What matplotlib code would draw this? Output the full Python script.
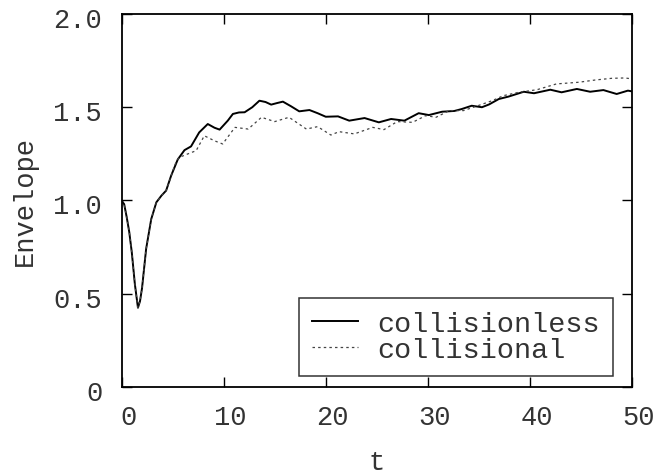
import matplotlib
matplotlib.use('Agg')
import matplotlib.pyplot as plt
import matplotlib.transforms as mtransforms

# collisionless run
t_less = [0, 0.25, 0.5, 0.75, 1.0, 1.3, 1.6, 1.8, 2.0, 2.4, 2.9, 3.4, 3.9,
          4.36, 4.85, 5.5, 6.16, 6.8, 7.6, 8.44, 9.1, 9.6, 10.4, 10.9, 11.5,
          12.05, 12.8, 13.5, 14.1, 14.65, 15.2, 15.8, 16.6, 17.4, 18.4, 19.2,
          20.0, 21.2, 22.3, 23.8, 25.2, 26.4, 27.7, 29.1, 30.1, 31.4, 32.6,
          33.3, 34.3, 35.3, 36.0, 36.95, 37.9, 39.4, 40.4, 42.0, 43.1, 44.6,
          45.9, 47.2, 48.5, 49.6, 50]
env_less = [1.0, 0.98, 0.91, 0.83, 0.72, 0.55, 0.425, 0.46, 0.53, 0.74, 0.90,
            0.99, 1.026, 1.053, 1.133, 1.22, 1.27, 1.29, 1.365, 1.41, 1.39,
            1.38, 1.428, 1.464, 1.472, 1.473, 1.50, 1.535, 1.528, 1.514,
            1.522, 1.53, 1.505, 1.478, 1.485, 1.468, 1.449, 1.451, 1.428,
            1.442, 1.419, 1.437, 1.428, 1.468, 1.458, 1.476, 1.480, 1.49,
            1.508, 1.50, 1.515, 1.544, 1.557, 1.583, 1.575, 1.594, 1.580,
            1.598, 1.583, 1.592, 1.571, 1.589, 1.585]

# collisional run
t_sion = [0, 0.25, 0.5, 0.75, 1.0, 1.3, 1.6, 1.8, 2.0, 2.4, 2.9, 3.4, 3.9,
          4.36, 4.85, 5.2, 5.6, 6.5, 7.3, 8.1, 9.1, 9.9, 11.1, 12.4, 13.7,
          15.0, 16.4, 18.1, 19.2, 20.5, 21.3, 22.8, 24.6, 25.7, 27.0, 28.5,
          29.8, 30.8, 32.1, 33.5, 35.0, 36.3, 37.4, 38.9, 40.7, 42.6, 44.8,
          46.4, 48.0, 49.3, 50]
env_sion = [1.0, 0.98, 0.91, 0.83, 0.72, 0.55, 0.425, 0.46, 0.53, 0.74, 0.90,
            0.99, 1.026, 1.053, 1.13, 1.19, 1.23, 1.25, 1.267, 1.347, 1.32,
            1.303, 1.392, 1.383, 1.446, 1.423, 1.446, 1.383, 1.396, 1.351,
            1.369, 1.357, 1.392, 1.38, 1.423, 1.419, 1.455, 1.446, 1.482,
            1.482, 1.510, 1.535, 1.562, 1.58, 1.594, 1.625, 1.634, 1.646,
            1.655, 1.657, 1.652]

xticks = [0, 10, 20, 30, 40, 50]
yticks = [0, 0.5, 1.0, 1.5, 2.0]
ylabels = ['0', '0.5', '1.0', '1.5', '2.0']

plt.rcParams['font.family'] = ['Liberation Mono', 'DejaVu Sans Mono']
plt.rcParams['font.size'] = 19.5
plt.rcParams['text.color'] = '#333333'

fig = plt.figure(figsize=(6.56, 4.77), dpi=100)
ax = fig.add_axes([0.1854, 0.1866, 0.7780, 0.7820])

ax.plot(t_less, env_less, color='black', lw=1.4, label='collisionless')
ax.plot(t_sion, env_sion, color='#444444', lw=0.9, linestyle=(0, (2, 2.5)),
        label='collisional')

ax.set_xlim(0, 50)
ax.set_ylim(0, 2.0)
ax.set_xticks(xticks)
ax.set_yticks(yticks)
ax.set_yticklabels(ylabels)
ax.tick_params(direction='in', length=7, width=1.0, top=True, right=True,
               colors='black', labelcolor='#333333')
ax.tick_params(axis='x', pad=12)
ax.tick_params(axis='y', pad=14)
for sp in ax.spines.values():
    sp.set_linewidth(1.3)

# labels sit a little right of (x) and below (y) their ticks
dx = mtransforms.ScaledTranslation(7 / 100, 0, fig.dpi_scale_trans)
for lab in ax.get_xticklabels():
    lab.set_transform(lab.get_transform() + dx)
dy = mtransforms.ScaledTranslation(0, -3 / 100, fig.dpi_scale_trans)
for lab in ax.get_yticklabels():
    lab.set_transform(lab.get_transform() + dy)

ax.set_xlabel('t', labelpad=14, color='#333333')
ax.set_ylabel('Envelope', labelpad=11, color='#333333')

leg = ax.legend(loc='lower right', bbox_to_anchor=(0.963, 0.0295),
                borderaxespad=0, frameon=True, fancybox=False,
                handlelength=1.6, handletextpad=0.7, labelspacing=0.0,
                borderpad=0.45, fontsize=20.5)
leg.get_frame().set_edgecolor('black')
leg.get_frame().set_linewidth(1.1)
for txt in leg.get_texts():
    txt.set_color('#333333')

fig.savefig('out.png', dpi=100)
